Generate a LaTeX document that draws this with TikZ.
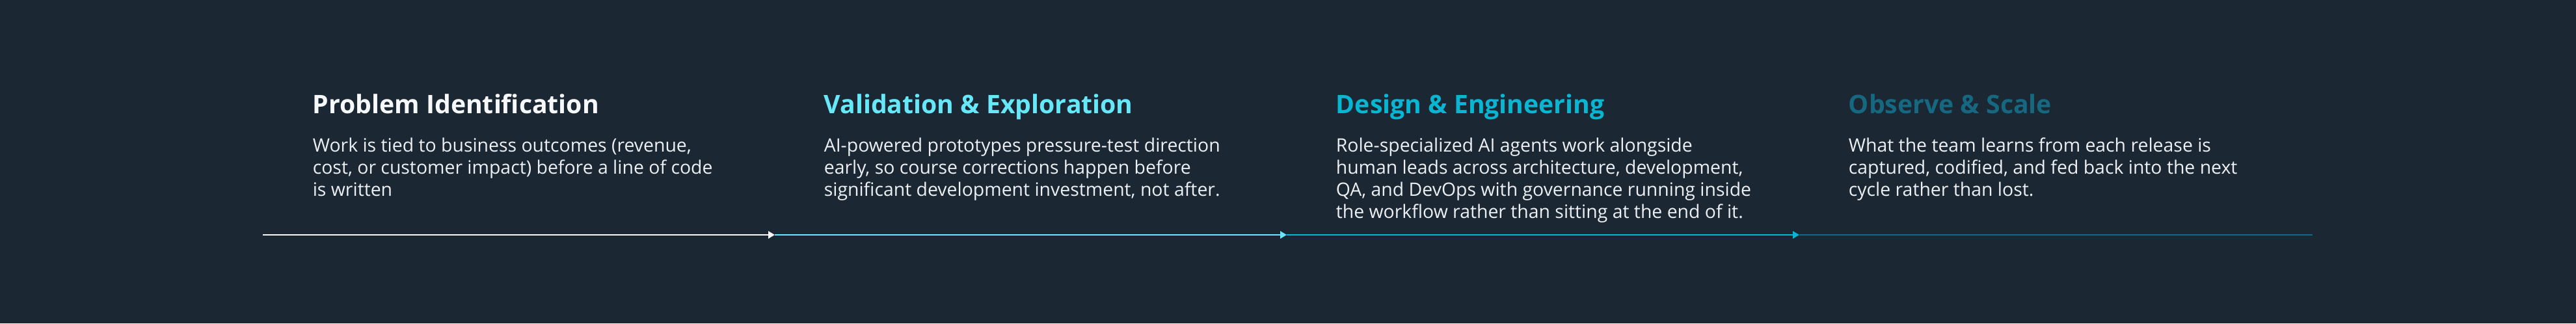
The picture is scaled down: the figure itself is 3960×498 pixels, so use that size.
\documentclass[tikz,border=0pt]{standalone}
\usepackage{fontspec}
\setmainfont{Open Sans}
\usetikzlibrary{calc,arrows.meta}

\definecolor{backdrop}{RGB}{27,39,51}
\definecolor{stage white}{RGB}{246,248,250}
\definecolor{body white}{RGB}{236,240,244}
\definecolor{stage aqua}{RGB}{103,232,249}
\definecolor{stage cyan}{RGB}{8,182,210}
\definecolor{stage teal}{RGB}{21,104,128}

\begin{document}
\begin{tikzpicture}[x=0.25pt,y=-0.25pt,
    title/.style={anchor=base west,inner sep=0,font=\fontsize{9.8}{11}\selectfont\bfseries},
    body/.style={anchor=north west,inner sep=0,align=left,text=body white,font=\fontsize{7.1}{8.5}\selectfont},
    segment/.style={line width=0.6pt},
    arrow/.style={segment,-{Triangle[length=2.5pt,width=2.8pt]}}]
  \fill[backdrop] (0,0) rectangle (3960,497);
  \useasboundingbox (0,0) rectangle (3960,498);

  \coordinate (problem start) at (404,361);
  \coordinate (validation start) at (1191,361);
  \coordinate (design start) at (1978,361);
  \coordinate (observe start) at (2766,361);
  \coordinate (timeline end) at (3555,361);

  \node[title,text=stage white] (problem) at ($ (problem start) + (76,-186) $) {Problem Identification};
  \node[body] (problem text) at ($ (problem.base west) + (0,36) $) {Work is tied to business outcomes (revenue,\\cost, or customer impact) before a line of code\\is written};

  \node[title,text=stage aqua] (validation) at ($ (validation start) + (75,-186) $) {Validation \& Exploration};
  \node[body] (validation text) at ($ (validation.base west) + (0,36) $) {AI-powered prototypes pressure-test direction\\early, so course corrections happen before\\significant development investment, not after.};

  \node[title,text=stage cyan] (design) at ($ (design start) + (75,-186) $) {Design \& Engineering};
  \node[body] (design text) at ($ (design.base west) + (0,36) $) {Role-specialized AI agents work alongside\\human leads across architecture, development,\\QA, and DevOps with governance running inside\\the workflow rather than sitting at the end of it.};

  \node[title,text=stage teal] (observe) at ($ (observe start) + (75,-186) $) {Observe \& Scale};
  \node[body] (observe text) at ($ (observe.base west) + (0,36) $) {What the team learns from each release is\\captured, codified, and fed back into the next\\cycle rather than lost.};

  \draw[arrow,stage white] (problem start) -- (validation start);
  \draw[arrow,stage aqua] (validation start) -- (design start);
  \draw[arrow,stage cyan] (design start) -- (observe start);
  \draw[segment,stage teal] (observe start) -- (timeline end);
\end{tikzpicture}
\end{document}
